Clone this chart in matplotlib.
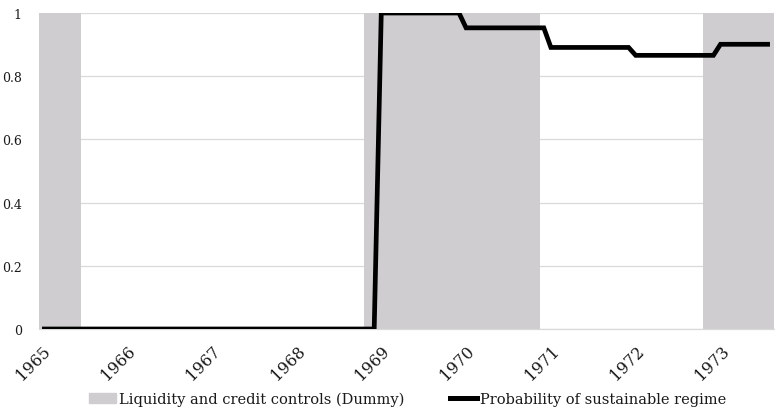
import matplotlib.pyplot as plt
import matplotlib.patches as mpatches
import matplotlib.lines as mlines
import matplotlib.transforms as mtransforms
import numpy as np

# monthly data, Jan 1965 .. Aug 1973
years = ['1965', '1966', '1967', '1968', '1969', '1970', '1971', '1972', '1973']

controls_dummy = [
    1, 1, 1, 1, 1, 1, 0, 0, 0, 0, 0, 0,  # 1965
    0, 0, 0, 0, 0, 0, 0, 0, 0, 0, 0, 0,  # 1966
    0, 0, 0, 0, 0, 0, 0, 0, 0, 0, 0, 0,  # 1967
    0, 0, 0, 0, 0, 0, 0, 0, 0, 0, 1, 1,  # 1968
    1, 1, 1, 1, 1, 1, 1, 1, 1, 1, 1, 1,  # 1969
    1, 1, 1, 1, 1, 1, 1, 1, 1, 1, 1, 0,  # 1970
    0, 0, 0, 0, 0, 0, 0, 0, 0, 0, 0, 0,  # 1971
    0, 0, 0, 0, 0, 0, 0, 0, 0, 0, 1, 1,  # 1972
    1, 1, 1, 1, 1, 1, 1, 1,              # 1973
]

prob_sustainable = [
    0, 0, 0, 0, 0, 0, 0, 0, 0, 0, 0, 0,  # 1965
    0, 0, 0, 0, 0, 0, 0, 0, 0, 0, 0, 0,  # 1966
    0, 0, 0, 0, 0, 0, 0, 0, 0, 0, 0, 0,  # 1967
    0, 0, 0, 0, 0, 0, 0, 0, 0, 0, 0, 0,  # 1968
    1, 1, 1, 1, 1, 1, 1, 1, 1, 1, 1, 1,  # 1969
    0.953, 0.953, 0.953, 0.953, 0.953, 0.953,
    0.953, 0.953, 0.953, 0.953, 0.953, 0.953,  # 1970
    0.891, 0.891, 0.891, 0.891, 0.891, 0.891,
    0.891, 0.891, 0.891, 0.891, 0.891, 0.891,  # 1971
    0.866, 0.866, 0.866, 0.866, 0.866, 0.866,
    0.866, 0.866, 0.866, 0.866, 0.866, 0.866,  # 1972
    0.901, 0.901, 0.901, 0.901, 0.901, 0.901, 0.901, 0.901,  # 1973
]

shade_color = '#cfcdcf'
text_color = '#1a1a1a'
font = 'DejaVu Serif'

fig = plt.figure(figsize=(7.75, 4.1), dpi=100)
ax = fig.add_axes([38.5 / 775, 1 - 330 / 410, (773.5 - 38.5) / 775, (330 - 14) / 410])

x = np.arange(len(prob_sustainable))
ax.bar(x, controls_dummy, width=1.0, color=shade_color, zorder=2)
ax.plot(x, prob_sustainable, color='black', lw=3.4, zorder=3,
        solid_joinstyle='miter', solid_capstyle='butt')

ax.set_xlim(-0.5, len(x) - 0.5)
ax.set_ylim(0, 1)
ax.set_yticks([0, 0.2, 0.4, 0.6, 0.8, 1])
ax.set_yticklabels(['0', '0.2', '0.4', '0.6', '0.8', '1'], fontfamily=font,
                   fontsize=9, color=text_color)
ax.yaxis.grid(True, color='#d9d9d9', lw=0.9, zorder=1)
ax.set_axisbelow(True)

ax.set_xticks(np.arange(0, len(x), 12))
ax.set_xticklabels(years, rotation=45, ha='right', va='top', rotation_mode='anchor',
                   fontfamily=font, fontsize=11.5, color=text_color)
shift = mtransforms.ScaledTranslation(-2 / 100, 0, fig.dpi_scale_trans)
for lbl in ax.get_xticklabels():
    lbl.set_transform(lbl.get_transform() + shift)
ax.tick_params(axis='both', length=0)
ax.tick_params(axis='y', pad=12)
ax.tick_params(axis='x', pad=9)

for side in ['top', 'right', 'left']:
    ax.spines[side].set_visible(False)
ax.spines['bottom'].set_color('#d9d9d9')
ax.spines['bottom'].set_linewidth(0.9)

handles = [
    mpatches.Patch(color=shade_color, label='Liquidity and credit controls (Dummy)'),
    mlines.Line2D([], [], color='black', lw=3.6, label='Probability of sustainable regime'),
]
fig.legend(handles=handles, loc='center', bbox_to_anchor=(407.5 / 775, 1 - 400 / 410), ncol=2,
           frameon=False, prop={'family': font, 'size': 10.5}, handlelength=1.85,
           handleheight=0.6, handletextpad=0.2, columnspacing=3.1, labelcolor=text_color,
           borderpad=0)

fig.savefig('out.png', dpi=100)
